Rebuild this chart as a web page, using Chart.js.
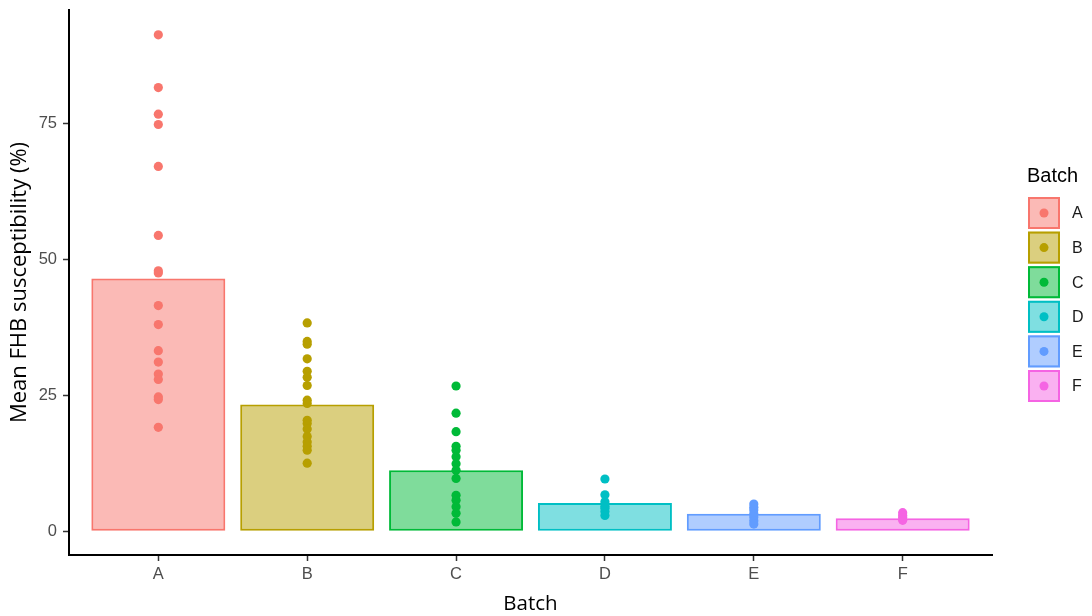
<!DOCTYPE html>
<html>
<head>
<meta charset="utf-8">
<script src="https://cdn.jsdelivr.net/npm/chart.js@4.4.1/dist/chart.umd.min.js"></script>
<style>
  html, body { margin: 0; padding: 0; background: #fff; }
  #wrap { width: 1092px; height: 616px; }
</style>
</head>
<body>
<div id="wrap"><canvas id="c" width="1092" height="616"></canvas></div>
<script>
// ---- data ----
const categories = ['A', 'B', 'C', 'D', 'E', 'F'];
const barMeans = [46.5, 23.3, 11.2, 5.2, 3.2, 2.4];
const pointsA = [91.3, 81.6, 76.7, 74.8, 67.1, 54.4, 47.9, 47.5, 41.5, 38.0, 33.2, 31.1, 28.9, 27.9, 24.7, 24.2, 19.1];
const pointsB = [38.3, 34.9, 34.4, 31.7, 29.4, 28.3, 26.8, 24.1, 23.5, 20.4, 19.8, 18.8, 17.4, 16.4, 15.6, 14.9, 12.5];
const pointsC = [26.7, 21.7, 18.3, 15.6, 14.9, 13.7, 12.4, 11.2, 9.7, 6.6, 5.7, 4.5, 3.3, 1.7];
const pointsD = [9.6, 6.7, 5.4, 4.6, 4.2, 3.6, 2.9];
const pointsE = [5.0, 4.4, 3.9, 3.2, 2.6, 1.9, 1.3];
const pointsF = [3.4, 2.9, 2.5, 2.0];
const yTicks = [0, 25, 50, 75];
const colors = ['#F8766D', '#B79F00', '#00BA38', '#00BFC4', '#619CFF', '#F564E3'];
const fills = ['rgba(248,118,109,0.5)', 'rgba(183,159,0,0.5)', 'rgba(0,186,56,0.5)', 'rgba(0,191,196,0.5)', 'rgba(97,156,255,0.5)', 'rgba(245,100,227,0.5)'];

const pointGroups = [pointsA, pointsB, pointsC, pointsD, pointsE, pointsF];
const barData = barMeans.map((v, i) => ({ x: i + 1, y: v }));
const scatterData = [];
const scatterColors = [];
pointGroups.forEach((arr, i) => arr.forEach(v => { scatterData.push({ x: i + 1, y: v }); scatterColors.push(colors[i]); }));

let maxVal = 0;
pointGroups.forEach(a => a.forEach(v => { if (v > maxVal) maxVal = v; }));
const yMin = -0.048 * maxVal, yMax = maxVal * 1.05;

const FONT = "'Liberation Sans', Arial, sans-serif";
const TFONT = "'Open Sans', 'Liberation Sans', sans-serif";

const legendPlugin = {
  id: 'ggLegend',
  afterDraw(chart) {
    const ctx = chart.ctx;
    ctx.save();
    ctx.fillStyle = '#000';
    ctx.font = '20px ' + FONT;
    ctx.textAlign = 'left';
    ctx.textBaseline = 'alphabetic';
    ctx.fillText('Batch', 1027, 182);
    const x0 = 1028, size = 32, top0 = 197, pitch = 34.6;
    categories.forEach((c, i) => {
      const y = top0 + i * pitch;
      ctx.fillStyle = fills[i];
      ctx.fillRect(x0, y, size, size);
      ctx.strokeStyle = colors[i];
      ctx.lineWidth = 2;
      ctx.strokeRect(x0 + 1, y + 1, size - 2, size - 2);
      ctx.beginPath();
      ctx.fillStyle = colors[i];
      ctx.arc(x0 + size / 2, y + size / 2, 4.5, 0, Math.PI * 2);
      ctx.fill();
      ctx.fillStyle = '#1a1a1a';
      ctx.font = '16px ' + FONT;
      ctx.textBaseline = 'middle';
      ctx.fillText(c, 1072, y + size / 2 + 1);
      ctx.textBaseline = 'alphabetic';
    });
    ctx.restore();
  }
};

new Chart(document.getElementById('c'), {
  type: 'bar',
  data: {
    datasets: [
      {
        type: 'scatter',
        data: scatterData,
        pointRadius: 4.6,
        pointHoverRadius: 4.6,
        pointBackgroundColor: scatterColors,
        pointBorderWidth: 0,
        order: 0
      },
      {
        type: 'bar',
        data: barData,
        backgroundColor: fills,
        borderColor: colors,
        borderWidth: 2,
        borderSkipped: false,
        categoryPercentage: 1,
        barPercentage: 0.9,
        order: 1
      }
    ]
  },
  options: {
    responsive: false,
    animation: false,
    devicePixelRatio: 1,
    layout: { padding: { left: 0, right: 100, top: 10, bottom: 0 } },
    plugins: { legend: { display: false }, tooltip: { enabled: false } },
    scales: {
      x: {
        type: 'linear',
        offset: false,
        min: 0.4,
        max: 6.6,
        afterBuildTicks: s => { s.ticks = categories.map((c, i) => ({ value: i + 1 })); },
        afterFit: s => { s.height = 61; s.paddingLeft = 0; s.paddingRight = 0; },
        ticks: {
          callback: v => categories[Math.round(v) - 1],
          color: '#4D4D4D',
          font: { family: FONT, size: 16.5 },
          padding: 4,
          autoSkip: false,
          maxRotation: 0
        },
        grid: { offset: false, drawOnChartArea: false, drawTicks: true, tickLength: 6, tickColor: '#333', tickWidth: 1.5 },
        border: { display: true, color: '#000', width: 2 },
        title: { display: true, text: 'Batch', color: '#000', font: { family: TFONT, size: 20.5 }, padding: { top: 0, bottom: 0 } }
      },
      y: {
        type: 'linear',
        min: yMin,
        max: yMax,
        afterBuildTicks: s => { s.ticks = yTicks.map(v => ({ value: v })); },
        afterFit: s => { s.width = 69; s.paddingTop = 0; s.paddingBottom = 0; },
        ticks: {
          color: '#4D4D4D',
          font: { family: FONT, size: 16.5 },
          padding: 6
        },
        grid: { drawOnChartArea: false, drawTicks: true, tickLength: 6, tickColor: '#333', tickWidth: 1.5 },
        border: { display: true, color: '#000', width: 2 },
        title: { display: true, text: 'Mean FHB susceptibility (%)', color: '#000', font: { family: TFONT, size: 22 }, padding: { top: 7, bottom: 0 } }
      }
    }
  },
  plugins: [legendPlugin]
});
</script>
</body>
</html>
